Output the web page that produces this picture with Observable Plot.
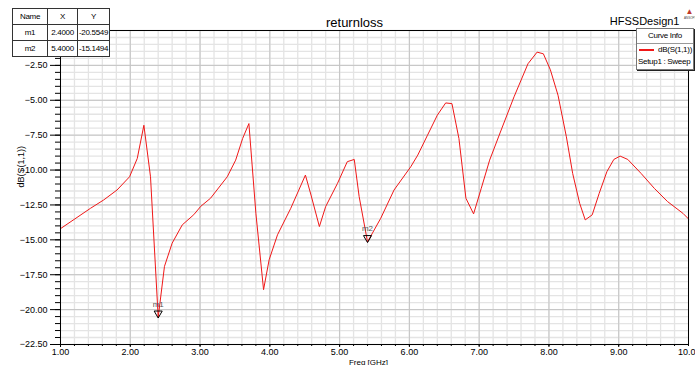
<!DOCTYPE html>
<html>
<head>
<meta charset="utf-8">
<script src="https://cdn.jsdelivr.net/npm/d3@7"></script>
<script src="https://cdn.jsdelivr.net/npm/@observablehq/plot@0.6"></script>
<style>
  html, body { margin: 0; padding: 0; background: #fff; }
  #wrap { position: relative; width: 695px; height: 365px; overflow: hidden; font-family: "Liberation Sans", Arial, sans-serif; }
  #table { position: absolute; left: 12px; top: 8px; border-collapse: collapse; background: #fff; font-size: 8px; letter-spacing: -0.3px; }
  #table td { border: 1px solid #333; text-align: center; padding: 0; height: 15px; line-height: 15px; }
  #legend { position: absolute; left: 636px; top: 28px; width: 56px; height: 40px; background: #fff; border: 1px solid #777; box-shadow: 1px 1px 0 #222; font-size: 8px; letter-spacing: -0.3px; }
  #legend .hd { height: 14px; line-height: 14px; text-align: center; border-bottom: 1px solid #999; }
  #legend .row { position: relative; height: 12px; line-height: 12px; }
  #logo { position: absolute; left: 684px; top: 8px; width: 11px; text-align: center; color: #c0392b; font-size: 8px; line-height: 8px; }
  #logo span { display: block; font-size: 3px; line-height: 4px; color: #444; }
</style>
</head>
<body>
<div id="wrap">
  <div id="chart"></div>
  <table id="table"></table>
  <div id="legend"></div>
  <div id="logo">&#9650;<span>ANSOFT</span></div>
</div>
<script>
// Data
const freq = [1.00, 1.43, 1.62, 1.81, 1.99, 2.10, 2.195, 2.29, 2.40, 2.49, 2.60, 2.745, 2.91, 3.01, 3.15, 3.39, 3.51, 3.61, 3.70, 3.80, 3.91, 3.99, 4.11, 4.30, 4.51, 4.59, 4.71, 4.80, 4.97, 5.11, 5.21, 5.28, 5.40, 5.59, 5.78, 6.02, 6.12, 6.26, 6.40, 6.52, 6.61, 6.71, 6.81, 6.92, 7.03, 7.15, 7.31, 7.50, 7.70, 7.83, 7.92, 8.02, 8.13, 8.25, 8.34, 8.44, 8.52, 8.62, 8.72, 8.83, 8.93, 9.02, 9.13, 9.32, 9.51, 9.70, 9.92, 10.00];
const s11dB = [-14.2, -12.74, -12.14, -11.43, -10.48, -9.17, -6.79, -10.48, -20.55, -16.9, -15.24, -13.93, -13.2, -12.6, -12.02, -10.48, -9.29, -7.74, -6.67, -13.1, -18.57, -16.43, -14.64, -12.74, -10.36, -11.79, -14.05, -12.62, -10.95, -9.40, -9.24, -11.9, -15.15, -13.45, -11.43, -9.76, -8.93, -7.5, -6.07, -5.19, -5.24, -7.74, -12.02, -13.14, -11.31, -9.29, -7.2, -4.75, -2.38, -1.55, -1.67, -2.81, -4.64, -7.62, -10.24, -12.38, -13.57, -13.21, -11.67, -10.12, -9.24, -9.0, -9.24, -10.24, -11.31, -12.26, -13.1, -13.5];

const markerNames = ["m1", "m2"];
const markerX = [2.4000, 5.4000];
const markerY = [-20.5549, -15.1494];

const xTicks = [1, 2, 3, 4, 5, 6, 7, 8, 9];
const xLastTick = [10];
const yTicks = [-2.5, -5, -7.5, -10, -12.5, -15, -17.5, -20, -22.5];
const xMinor = d3.range(1, 10.001, 0.2);
const yMinor = d3.range(-22.5, 0.001, 0.5);

const title = "returnloss";
const designName = "HFSSDesign1";
const yLabel = "dB(S(1,1))";
const xLabel = "Freq [GHz]";
const traceName = "dB(S(1,1))";
const setupName = "Setup1 : Sweep";

const curve = freq.map((f, i) => ({f, db: s11dB[i]}));
const markers = markerNames.map((n, i) => ({name: n, x: markerX[i], y: markerY[i]}));
const fmt2 = d3.format(".2f");

const chart = Plot.plot({
  width: 695,
  height: 365,
  marginLeft: 60,
  marginRight: 7,
  marginTop: 30,
  marginBottom: 21,
  x: {domain: [1, 10]},
  y: {domain: [-22.5, 0]},
  style: {fontFamily: "Liberation Sans, Arial, sans-serif", fontSize: "9px", color: "#000", background: "#fff", overflow: "hidden"},
  marks: [
    Plot.gridX(xMinor, {stroke: "#e4e4e4", strokeOpacity: 1, strokeWidth: 1.3}),
    Plot.gridY(yMinor, {stroke: "#e4e4e4", strokeOpacity: 1, strokeWidth: 1.3}),
    Plot.gridX(xTicks, {stroke: "#c4c4c4", strokeOpacity: 1}),
    Plot.gridY(yTicks, {stroke: "#c4c4c4", strokeOpacity: 1}),
    Plot.line(curve, {x: "f", y: "db", stroke: "#f01818", strokeWidth: 1}),
    Plot.dot(markers, {x: "x", y: "y", symbol: "triangle", rotate: 180, r: 3, stroke: "#000", fill: "none", strokeWidth: 1, dy: -4}),
    Plot.text(markers, {x: "x", y: "y", text: "name", dy: -13, fill: "#555", fontSize: 8}),
    Plot.axisY(yMinor, {tickSize: 5, tickFormat: () => "", label: null}),
    Plot.axisY(yTicks, {tickSize: 10, tickPadding: 3, tickFormat: fmt2, label: null, fontSize: 9, letterSpacing: "-0.3"}),
    Plot.axisX(xMinor, {tickSize: 2, tickFormat: () => "", label: null}),
    Plot.axisX(xTicks, {tickSize: 3, tickPadding: 1, tickFormat: fmt2, label: null, fontSize: 9, letterSpacing: "-0.3"}),
    Plot.axisX(xLastTick, {tickSize: 3, tickPadding: 1, tickFormat: d3.format(".1f"), label: null, fontSize: 9, letterSpacing: "-0.3", textAnchor: "end", dx: 7}),
    Plot.frame({stroke: "#000", strokeWidth: 1}),
    Plot.text([yLabel], {frameAnchor: "left", rotate: -90, dx: -39, fontSize: 9}),
    Plot.text([xLabel], {frameAnchor: "bottom", dy: 20, dx: -6, fontSize: 8, lineAnchor: "bottom"}),
    Plot.text([title], {frameAnchor: "top", dy: -13, dx: -20, fontSize: 13}),
    Plot.text([designName], {frameAnchor: "top-right", textAnchor: "end", dx: -9, dy: -13, fontSize: 11})
  ]
});
document.getElementById("chart").appendChild(chart);

// marker table
const tbl = document.getElementById("table");
const widths = [34, 29, 31];
const header = ["Name", "X", "Y"];
let html = "<tr>" + header.map((h, i) => `<td style="width:${widths[i]}px">${h}</td>`).join("") + "</tr>";
markers.forEach(m => {
  html += `<tr><td>${m.name}</td><td>${m.x.toFixed(4)}</td><td>${m.y.toFixed(4)}</td></tr>`;
});
tbl.innerHTML = html;

// legend
document.getElementById("legend").innerHTML =
  `<div class="hd">Curve Info</div>` +
  `<div class="row"><span style="position:absolute;left:2px;top:5px;width:15px;height:2px;background:#f01818"></span><span style="position:absolute;right:1px">${traceName}</span></div>` +
  `<div class="row" style="padding-left:1px">${setupName}</div>`;
</script>
</body>
</html>
